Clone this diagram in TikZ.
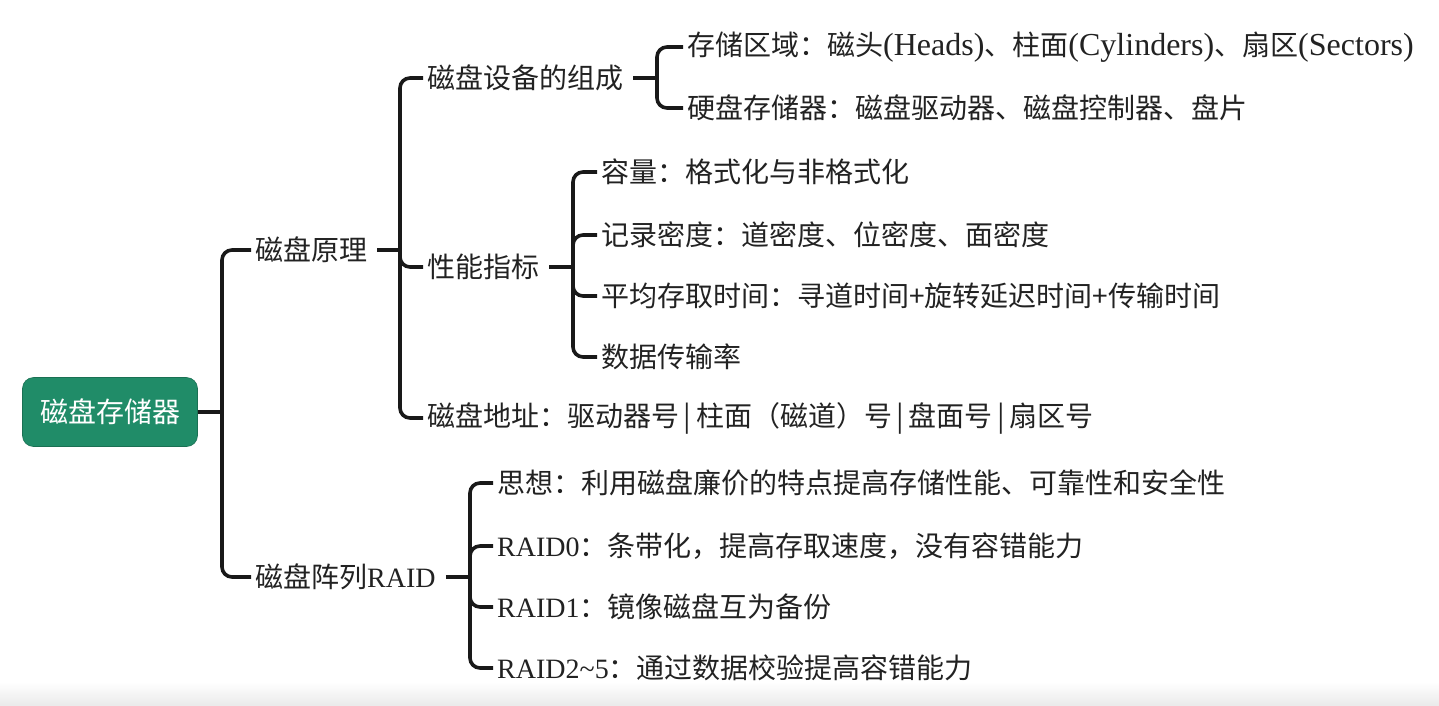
\documentclass[tikz,border=0pt]{standalone}
\usepackage{fontspec}
\setmainfont{Noto Sans CJK SC}
\newfontfamily\lt{Liberation Serif}
\newcommand\Lt[1]{{\lt #1}}
\newcommand\Lw[1]{{\lt\fontsize{32}{32}\selectfont #1}}
\definecolor{rootgreen}{RGB}{32,140,104}
\definecolor{txt}{RGB}{34,34,34}
\begin{document}
\begin{tikzpicture}[x=1pt,y=-1pt,
  lbl/.style={anchor=west, inner xsep=4pt, inner ysep=0pt, text=txt, font=\fontsize{28}{32}\selectfont},
  rootbox/.style={fill=rootgreen, draw=rootgreen!80!black, line width=0.6pt, rounded corners=11pt, minimum width=175pt, minimum height=69pt, text=white, font=\fontsize{28}{32}\selectfont, inner sep=0pt},
  conn/.style={line width=3.6pt, draw=black!90, rounded corners=10pt, line cap=butt}
]
\useasboundingbox (0,0) rectangle (1439,705);
\fill[white] (0,0) rectangle (1439,705);
\shade[top color=white, bottom color=black!8] (0,682) rectangle (1439,705);

% root
\node[rootbox] (root) at (110,412) {磁盘存储器};

% level 1
\node[lbl] (yl) at (251,250) {磁盘原理};
\node[lbl] (raid) at (251,577) {磁盘阵列\Lt{RAID}};

% level 2 under 磁盘原理
\node[lbl] (sb) at (423,78) {磁盘设备的组成};
\node[lbl] (xn) at (423,267) {性能指标};
\node[lbl] (dz) at (423,418) {磁盘地址：驱动器号\,|\,柱面（磁道）号\,|\,盘面号\,|\,扇区号};

% level 3 under 磁盘设备的组成
\node[lbl] (cq) at (683,47) {存储区域：磁头\Lw{(Heads)}、柱面\Lw{(Cylinders)}、扇区\Lw{(Sectors)}};
\node[lbl] (yp) at (683,108) {硬盘存储器：磁盘驱动器、磁盘控制器、盘片};

% level 3 under 性能指标
\node[lbl] (rl) at (597,172) {容量：格式化与非格式化};
\node[lbl] (jl) at (597,235) {记录密度：道密度、位密度、面密度};
\node[lbl] (pj) at (597,296) {平均存取时间：寻道时间+旋转延迟时间+传输时间};
\node[lbl] (sj) at (597,357) {数据传输率};

% level 2 under RAID
\node[lbl] (sx) at (493,483) {思想：利用磁盘廉价的特点提高存储性能、可靠性和安全性};
\node[lbl] (r0) at (493,546) {\Lt{RAID0}：条带化，提高存取速度，没有容错能力};
\node[lbl] (r1) at (493,607) {\Lt{RAID1}：镜像磁盘互为备份};
\node[lbl] (r2) at (493,668) {\Lt{RAID2\textasciitilde5}：通过数据校验提高容错能力};

% junctions
\coordinate (j0) at (222,412);
\coordinate (j1) at (400,250);
\coordinate (j2) at (657,78);
\coordinate (j3) at (573,267);
\coordinate (j4) at (470,577);

% connectors
\draw[conn] (root.east) -- (j0);
\draw[conn] (j0) |- (yl.west);
\draw[conn] (j0) |- (raid.west);

\draw[conn] ([xshift=6pt]yl.east) -- (j1);
\draw[conn] (j1) |- (sb.west);
\draw[conn] (j1) |- (xn.west);
\draw[conn] (j1) |- (dz.west);

\draw[conn] ([xshift=6pt]sb.east) -- (j2);
\draw[conn] (j2) |- (cq.west);
\draw[conn] (j2) |- (yp.west);

\draw[conn] ([xshift=6pt]xn.east) -- (j3);
\draw[conn] (j3) |- (rl.west);
\draw[conn] (j3) |- (jl.west);
\draw[conn] (j3) |- (pj.west);
\draw[conn] (j3) |- (sj.west);

\draw[conn] ([xshift=6pt]raid.east) -- (j4);
\draw[conn] (j4) |- (sx.west);
\draw[conn] (j4) |- (r0.west);
\draw[conn] (j4) |- (r1.west);
\draw[conn] (j4) |- (r2.west);
\end{tikzpicture}
\end{document}
